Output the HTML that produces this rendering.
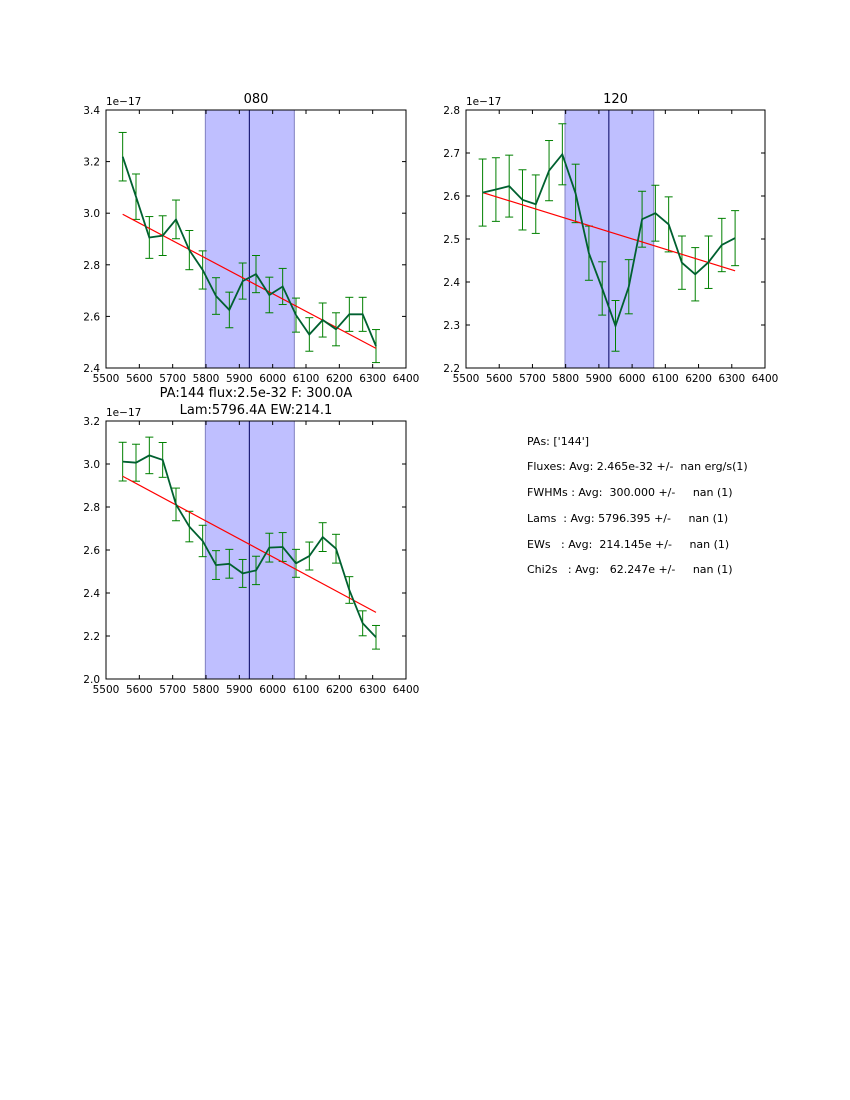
<!DOCTYPE html>
<html><head><meta charset="utf-8"><style>
html,body{margin:0;padding:0;background:#fff;width:850px;height:1100px;overflow:hidden}
svg text{font-family:"DejaVu Sans","Liberation Sans",sans-serif}
</style></head><body>
<svg id="fig" width="850" height="1100" xmlns="http://www.w3.org/2000/svg">
<g id="stats" font-size="11" fill="#000" style="white-space:pre">
<text x="527" y="445" xml:space="preserve">PAs: ['144']</text>
<text x="527" y="470" xml:space="preserve">Fluxes: Avg: 2.465e-32 +/-  nan erg/s(1)</text>
<text x="527" y="496" xml:space="preserve">FWHMs : Avg:  300.000 +/-     nan (1)</text>
<text x="527" y="522" xml:space="preserve">Lams  : Avg: 5796.395 +/-     nan (1)</text>
<text x="527" y="548" xml:space="preserve">EWs   : Avg:  214.145e +/-     nan (1)</text>
<text x="527" y="573" xml:space="preserve">Chi2s   : Avg:   62.247e +/-     nan (1)</text>
</g>
</svg>
<script>
const wave = [5550,5590,5630,5670,5710,5750,5790,5830,5870,5910,5950,5990,6030,6070,6110,6150,6190,6230,6270,6310];
const flux080 = [3.219,3.064,2.906,2.913,2.976,2.857,2.780,2.679,2.625,2.737,2.764,2.683,2.716,2.605,2.530,2.586,2.550,2.608,2.608,2.485];
const err080 = [0.094,0.088,0.081,0.077,0.075,0.076,0.074,0.071,0.069,0.070,0.072,0.069,0.070,0.066,0.065,0.066,0.064,0.066,0.066,0.064];
const fit080 = [2.996,2.476];
const flux120 = [2.608,2.615,2.623,2.591,2.581,2.659,2.697,2.606,2.467,2.385,2.298,2.389,2.546,2.560,2.534,2.445,2.418,2.446,2.486,2.502];
const err120 = [0.078,0.074,0.072,0.070,0.068,0.070,0.071,0.068,0.063,0.062,0.059,0.063,0.065,0.065,0.064,0.062,0.062,0.061,0.062,0.064];
const fit120 = [2.608,2.426];
const flux144 = [3.011,3.006,3.040,3.019,2.812,2.709,2.642,2.530,2.536,2.491,2.505,2.611,2.614,2.538,2.572,2.660,2.606,2.414,2.259,2.194];
const err144 = [0.090,0.086,0.085,0.081,0.076,0.071,0.073,0.067,0.067,0.065,0.066,0.067,0.067,0.065,0.065,0.067,0.067,0.062,0.058,0.055];
const fit144 = [2.943,2.310];
const xTicks = [5500,5600,5700,5800,5900,6000,6100,6200,6300,6400];
const yTicks1 = [2.4,2.6,2.8,3.0,3.2,3.4];
const yTicks2 = [2.2,2.3,2.4,2.5,2.6,2.7,2.8];
const yTicks3 = [2.0,2.2,2.4,2.6,2.8,3.0,3.2];
const span = [5798,6065];
const lineCenter = 5930;

const NS="http://www.w3.org/2000/svg";
const fig=document.getElementById('fig');
function mk(tag,attrs,parent){const e=document.createElementNS(NS,tag);for(const k in attrs)e.setAttribute(k,attrs[k]);(parent||fig).appendChild(e);return e;}

function panel(name,L,T,W,H,ymin,ymax,yt,yfmt,flux,err,fit,titles){
  const g=mk('g',{});
  
  
  const X=v=>L+(v-5500)/(6400-5500)*W;
  const Y=v=>T+H-(v-ymin)/(ymax-ymin)*H;
  const sp=mk('rect',{x:X(span[0]),y:T,width:X(span[1])-X(span[0]),height:H,fill:'#bfbfff',stroke:'#8080c0','stroke-width':1},g);
  
  
  const vl=mk('line',{x1:X(lineCenter),x2:X(lineCenter),y1:T,y2:T+H,stroke:'#000060','stroke-width':1},g);
  
  
  const eb=mk('g',{stroke:'#008000','stroke-width':1},g);
  
  
  for(let i=0;i<wave.length;i++){
    const x=X(wave[i]),y1=Y(flux[i]-err[i]),y2=Y(flux[i]+err[i]);
    mk('line',{x1:x,x2:x,y1:y1,y2:y2},eb);
    mk('line',{x1:x-4,x2:x+4,y1:y1,y2:y1},eb);
    mk('line',{x1:x-4,x2:x+4,y1:y2,y2:y2},eb);
  }
  const fl=mk('line',{x1:X(wave[0]),y1:Y(fit[0]),x2:X(wave[wave.length-1]),y2:Y(fit[1]),stroke:'#ff0000','stroke-width':1.2},g);
  
  
  const pts=wave.map((w,i)=>X(w).toFixed(1)+','+Y(flux[i]).toFixed(1)).join(' ');
  const pl=mk('polyline',{points:pts,fill:'none',stroke:'#006030','stroke-width':1.8},g);
  
  
  mk('rect',{x:L,y:T,width:W,height:H,fill:'none',stroke:'#000','stroke-width':1},g);
  const tk=mk('g',{stroke:'#000','stroke-width':1},g);
  const lb=mk('g',{'font-size':'10.5',fill:'#000'},g);
  
  
  xTicks.forEach(v=>{const x=X(v);
    mk('line',{x1:x,x2:x,y1:T+H,y2:T+H-4},tk);mk('line',{x1:x,x2:x,y1:T,y2:T+4},tk);
    const t=mk('text',{x:x,y:T+H+14,'text-anchor':'middle'},lb);t.textContent=v;});
  yt.forEach(v=>{const y=Y(v);
    mk('line',{x1:L,x2:L+4,y1:y,y2:y},tk);mk('line',{x1:L+W,x2:L+W-4,y1:y,y2:y},tk);
    const t=mk('text',{x:L-6,y:y+4,'text-anchor':'end'},lb);t.textContent=v.toFixed(yfmt);});
  const off=mk('text',{x:L,y:T-5,'font-size':'10.5'},g);off.textContent='1e\u221217';
  
  
  titles.forEach((s,i)=>{const t=mk('text',{x:L+W/2,y:T-7-(titles.length-1-i)*17,'text-anchor':'middle','font-size':'13'},g);t.textContent=s;
    
    });
}
panel('panel-080',106,110,300,258,2.4,3.4,yTicks1,1,flux080,err080,fit080,['080']);
panel('panel-120',466,110,299,258,2.2,2.8,yTicks2,1,flux120,err120,fit120,['120']);
panel('panel-144',106,421,300,258,2.0,3.2,yTicks3,1,flux144,err144,fit144,['PA:144 flux:2.5e-32 F: 300.0A','Lam:5796.4A EW:214.1']);
</script>
</body></html>
